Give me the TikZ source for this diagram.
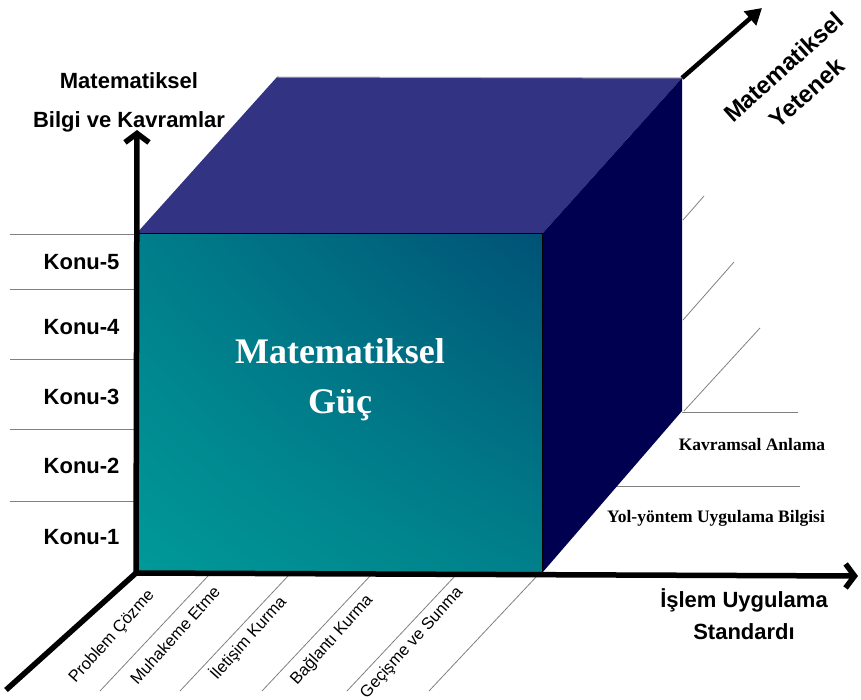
\documentclass[tikz,border=0pt]{standalone}
\usepackage{fontspec}
\setmainfont{Liberation Serif}
\setsansfont{Liberation Sans}
\usetikzlibrary{arrows.meta,shadings}
\definecolor{topface}{RGB}{51,51,132}
\definecolor{sideface}{RGB}{0,0,80}
\definecolor{frontUL}{RGB}{0,126,138}
\definecolor{frontUR}{RGB}{0,82,118}
\definecolor{frontLL}{RGB}{0,153,153}
\definecolor{frontLR}{RGB}{0,128,138}

\begin{document}
\begin{tikzpicture}[x=1pt, y=-1pt,
    axlabel/.style={font=\sffamily\bfseries\fontsize{22}{39}\selectfont, align=center},
    konu/.style={font=\sffamily\bfseries\fontsize{22}{26}\selectfont, anchor=east},
    standart/.style={font=\sffamily\fontsize{16.5}{19}\selectfont, rotate=48},
    yetenek/.style={font=\bfseries\fontsize{17.5}{20}\selectfont},
    gridline/.style={line width=0.8pt, gray},
    axis/.style={line width=5.5pt}]
    \useasboundingbox (0,0) rectangle (861,700);
    % cube corners
    \coordinate (O) at (136,573);
    \coordinate (FTL) at (136,234);
    \coordinate (FTR) at (542,234);
    \coordinate (FBR) at (542,573);
    \coordinate (BTL) at (277,77);
    \coordinate (BTR) at (682,78);
    \coordinate (BBR) at (682,411);

    % Konu levels
    \foreach \y in {234,289,359,429,501}
        \draw[gridline] (10,\y) -- (136,\y);
    \foreach \y/\n in {262/5, 327/4, 397/3, 466/2, 537/1}
        \node[konu] (konu\n) at (123,\y) {Konu-\n};

    % standards on the floor
    \foreach \x in {208,288,370,455,537}
        \draw[gridline] (\x,576) -- ++(-108,115);
    \node[standart] (problem) at (112,637) {Problem Çözme};
    \node[standart] (muhakeme) at (175,635) {Muhakeme Etme};
    \node[standart] (iletisim) at (248,638) {İletişim Kurma};
    \node[standart] (baglanti) at (332,640) {Bağlantı Kurma};
    \node[standart] (gecisme) at (412,643) {Geçişme ve Sunma};

    % right wall and floor lines
    \draw[gridline] (683,220) -- (704,196);
    \draw[gridline] (683,320) -- (734,262);
    \draw[gridline] (684,411) -- (760,328);
    \draw[gridline] (682,412) -- (798,412);
    \draw[gridline] (617,486) -- (800,486);
    \node[yetenek] (kavramsal) at (752,445) {Kavramsal Anlama};
    \node[yetenek] (yolyontem) at (716,518) {Yol-yöntem Uygulama Bilgisi};

    % cube
    \fill[topface] (FTL) -- (BTL) -- (BTR) -- (FTR) -- cycle;
    \draw[line width=1pt, gray!60] (BTL) -- (BTR);
    \fill[sideface] (FTR) -- (BTR) -- (BBR) -- (FBR) -- cycle;
    \shade[upper left=frontUL, upper right=frontUR, lower left=frontLL, lower right=frontLR]
        (FTL) rectangle (FBR);
    \draw[line width=1pt] (FTL) rectangle (FBR);
    \node[font=\bfseries\fontsize{36}{50}\selectfont, white, align=center] (guc) at (340,380) {Matematiksel\\Güç};

    % axes
    \draw[axis, -{Straight Barb[length=9pt, width=24pt]}] (O) -- (137,130);
    \draw[axis, -{Straight Barb[length=9pt, width=24pt]}] (O) -- (858,576);
    \draw[axis] (O) -- (6,690);
    \draw[line width=4.5pt, -{Triangle[length=16pt, width=18pt]}] (BTR) -- (762,8);

    % axis labels
    \node[axlabel] (bilgi) at (129,102) {Matematiksel\\Bilgi ve Kavramlar};
    \node[axlabel, font=\sffamily\bfseries\fontsize{22}{32}\selectfont] (islem) at (744,614) {İşlem Uygulama\\Standardı};
    \node[axlabel, font=\sffamily\bfseries\fontsize{24}{35}\selectfont, rotate=42] (beceri) at (795,80) {Matematiksel\\Yetenek};
\end{tikzpicture}
\end{document}
